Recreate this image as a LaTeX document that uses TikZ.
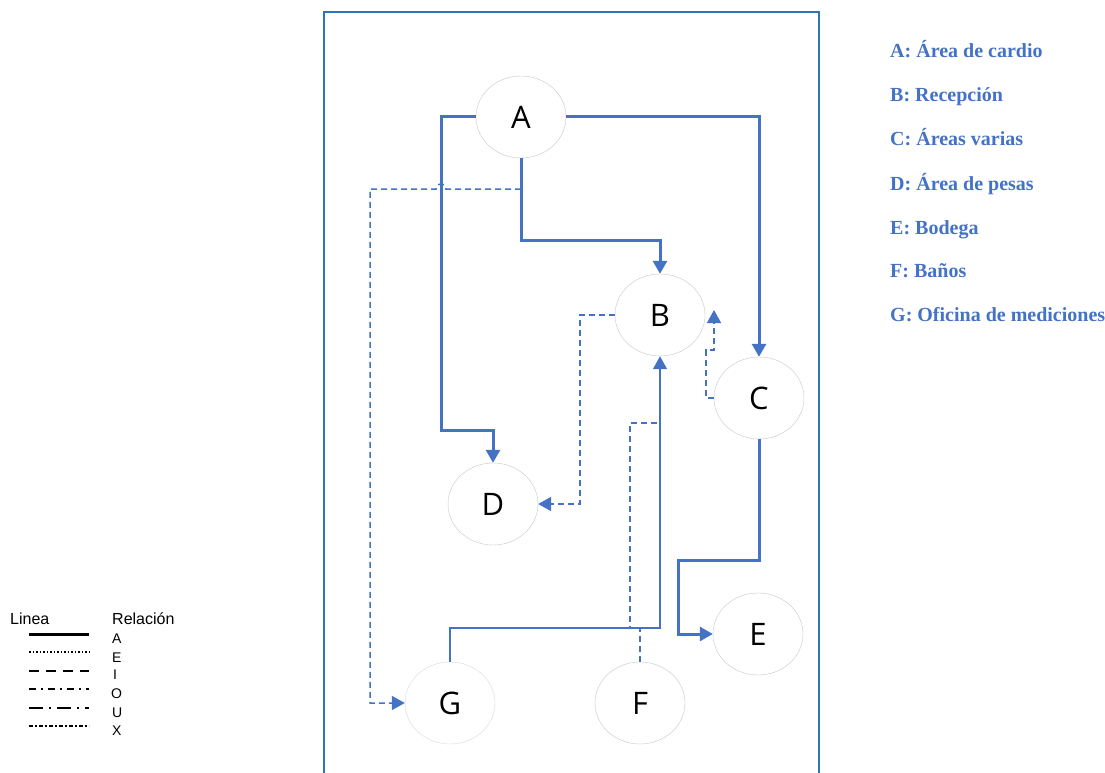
\documentclass[tikz,border=0pt]{standalone}
\usepackage{fontspec}
\setmainfont{Liberation Serif}
\newfontfamily\areafont{Open Sans}
\newfontfamily\legfont{Liberation Sans}
\usepackage{tikz}
\usetikzlibrary{arrows.meta,shapes,positioning}
\definecolor{linkblue}{HTML}{4472C4}
\definecolor{frameblue}{HTML}{2E75B6}

\begin{document}
\begin{tikzpicture}
          [x=1pt,y=-1pt,line join=miter,>={Triangle[length=13pt,width=14pt]}]
          \tikzstyle{area}=[ellipse,draw=black!22,fill=white,text=black,minimum width=90pt,minimum height=82pt,inner sep=0pt,font=\areafont\fontsize{31}{31}\selectfont]
          \tikzstyle{rel a}=[linkblue,line width=3pt]
          \tikzstyle{rel i}=[linkblue,line width=1.5pt,dash pattern=on 6pt off 4pt]
          \tikzstyle{rel o}=[linkblue,line width=1.5pt]
          \tikzstyle{key}=[anchor=base west,inner sep=0pt,text=linkblue,font=\bfseries\fontsize{20}{20}\selectfont]
          \tikzstyle{legend}=[anchor=base west,inner sep=0pt,font=\legfont\fontsize{16}{16}\selectfont]
          \tikzstyle{legline}=[black,line width=2pt]

          \useasboundingbox (0,0) rectangle (1105,773);
          \draw[frameblue,line width=1.2pt] (324,773) -- (324,12) -- (819,12) -- (819,773);

          \node[area] (A) at (521,117) {A};
          \node[area] (B) at (660,315) {B};
          \node[area] (C) at (759,398) {C};
          \node[area] (D) at (493,504) {D};
          \node[area] (E) at (758,634) {E};
          \node[area,draw=blue!8!black!15] (G) at (450,703) {G};
          \node[area] (F) at (640,703) {F};

          \coordinate (ag) at (521,189);
          \coordinate (cb) at (714,310);
          \coordinate (fb) at (660,423);

          \draw[rel a,->] (A.west) -- (441,117) -- (441,430) -| (D.north);
          \draw[rel a,->] (A.east) -| (C.north);
          \draw[rel a,->] (A.south) -- (521,240) -| (B.north);
          \draw[rel a,->] (C.south) -- (759,560) -- (678,560) |- (E.west);
          \draw[rel i,->] (ag) -- (446,189) .. controls (446,182) and (436,182) .. (436,189) -- (370,189) |- (G.west);
          \draw[rel i,->] (B.west) -- (580,315) |- (D.east);
          \draw[rel i,->] (C.west) -- (706,398) -- (706,350) -- (714,350) -- (cb);
          \draw[rel o,->] (G.north) -- (450,628) -| (B.south);
          \draw[rel i] (F.north) -- (640,628) -- (630,628) -- (630,423) -- (fb);

          % areas
          \node[key] (ka) at (890,58) {A: Área de cardio};
          \node[key] (kb) at (890,102) {B: Recepción};
          \node[key] (kc) at (890,146) {C: Áreas varias};
          \node[key] (kd) at (890,190) {D: Área de pesas};
          \node[key] (ke) at (890,234) {E: Bodega};
          \node[key] (kf) at (890,277) {F: Baños};
          \node[key] (kg) at (890,321) {G: Oficina de mediciones};

          % line types
          \node[legend] (linea) at (10,624) {Linea};
          \node[legend] (relacion) at (112,624) {Relación};
          \node[legend,font=\legfont\fontsize{14}{14}\selectfont] (la) at (112,643) {A};
          \node[legend,font=\legfont\fontsize{14}{14}\selectfont] (le) at (112,662) {E};
          \node[legend,font=\legfont\fontsize{14}{14}\selectfont] (li) at (113,679) {I};
          \node[legend,font=\legfont\fontsize{14}{14}\selectfont] (lo) at (111,698) {O};
          \node[legend,font=\legfont\fontsize{14}{14}\selectfont] (lu) at (112,717) {U};
          \node[legend,font=\legfont\fontsize{14}{14}\selectfont] (lx) at (112,735) {X};
          \draw[legline,line width=3pt] (29,634) -- (89,634);
          \draw[legline,line width=1.5pt,dash pattern=on 1.5pt off 2pt] (29,652) -- (89,652);
          \draw[legline,dash pattern=on 10pt off 7pt] (29,671) -- (89,671);
          \draw[legline,dash pattern=on 7pt off 5pt on 2pt off 5pt] (29,689) -- (89,689);
          \draw[legline,line width=1.2pt,dash pattern=on 14pt off 6pt on 2pt off 6pt] (29,708) -- (89,708);
          \draw[legline,line width=1.2pt,dash pattern=on 4pt off 2pt on 2pt off 2pt] (29,726) -- (89,726);
        \end{tikzpicture}
\end{document}
